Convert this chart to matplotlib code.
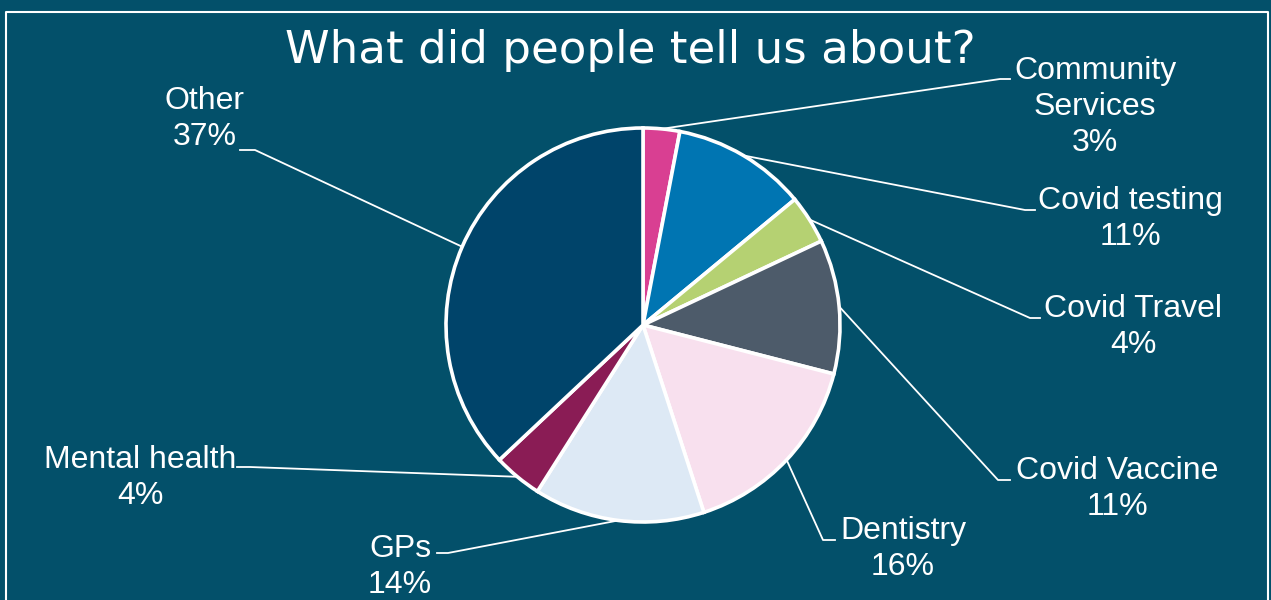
import numpy as np
import matplotlib.pyplot as plt
from matplotlib.lines import Line2D

# ---- data ----
categories = ["Community\nServices", "Covid testing", "Covid Travel", "Covid Vaccine",
              "Dentistry", "GPs", "Mental health", "Other"]
shares = [3, 11, 4, 11, 16, 14, 4, 37]
colors = ["#D93F92", "#0075B2", "#B5D172", "#4D5B6A",
          "#F8E0EE", "#DDE9F5", "#8A1C55", "#00446A"]

BG = "#03506A"
W, H = 1271, 600

# label layout in pixel coords (top-left origin): text centre, elbow, line end
label_pos = [(1095, 107), (1130, 219), (1133, 327), (1117, 489),
             (903, 549), (400, 567), (140, 478), (205, 119)]
elbows = [(1000, 79), (1025, 210), (1030, 318), (998, 480),
          (823, 540), (448, 553), (250, 467), (255, 150)]
ends = [(1010, 79), (1035, 210), (1040, 318), (1010, 480),
        (835, 540), (437, 553), (237, 467), (240, 150)]

CX, CY, R = 643, 600 - 325, 197


def py(y):
    return H - y


fig = plt.figure(figsize=(W / 100, H / 100), dpi=100, facecolor=BG)
ax = fig.add_axes([0, 0, 1, 1])
ax.set_facecolor(BG)

wedges, _ = ax.pie(shares, colors=colors, startangle=90, counterclock=False,
                   center=(CX, CY), radius=R,
                   wedgeprops=dict(edgecolor="white", linewidth=2.6))
ax.set_xlim(0, W)
ax.set_ylim(0, H)
ax.set_aspect("auto")
ax.axis("off")

# white frame
ax.add_line(Line2D([6, 6, 1268, 1268], [py(620), py(12), py(12), py(620)],
                   color="white", lw=1.5))

ax.text(630, py(50), "What did people tell us about?", color="white",
        fontsize=32.5, family="DejaVu Sans", ha="center", va="center")

total = sum(shares)
for w, name, val, (tx, ty), el, en in zip(wedges, categories, shares, label_pos, elbows, ends):
    mid = np.deg2rad((w.theta1 + w.theta2) / 2)
    ax0 = CX + R * np.cos(mid)
    ay0 = CY + R * np.sin(mid)
    ax.plot([ax0, el[0], en[0]], [ay0, py(el[1]), py(en[1])], color="white", lw=1.3)
    pct = round(100 * val / total)
    ax.text(tx, py(ty), f"{name}\n{pct}%", color="white", fontsize=23,
            family="Liberation Sans", ha="center", va="center", linespacing=1.27)

fig.savefig("out.png", dpi=100, facecolor=BG)
